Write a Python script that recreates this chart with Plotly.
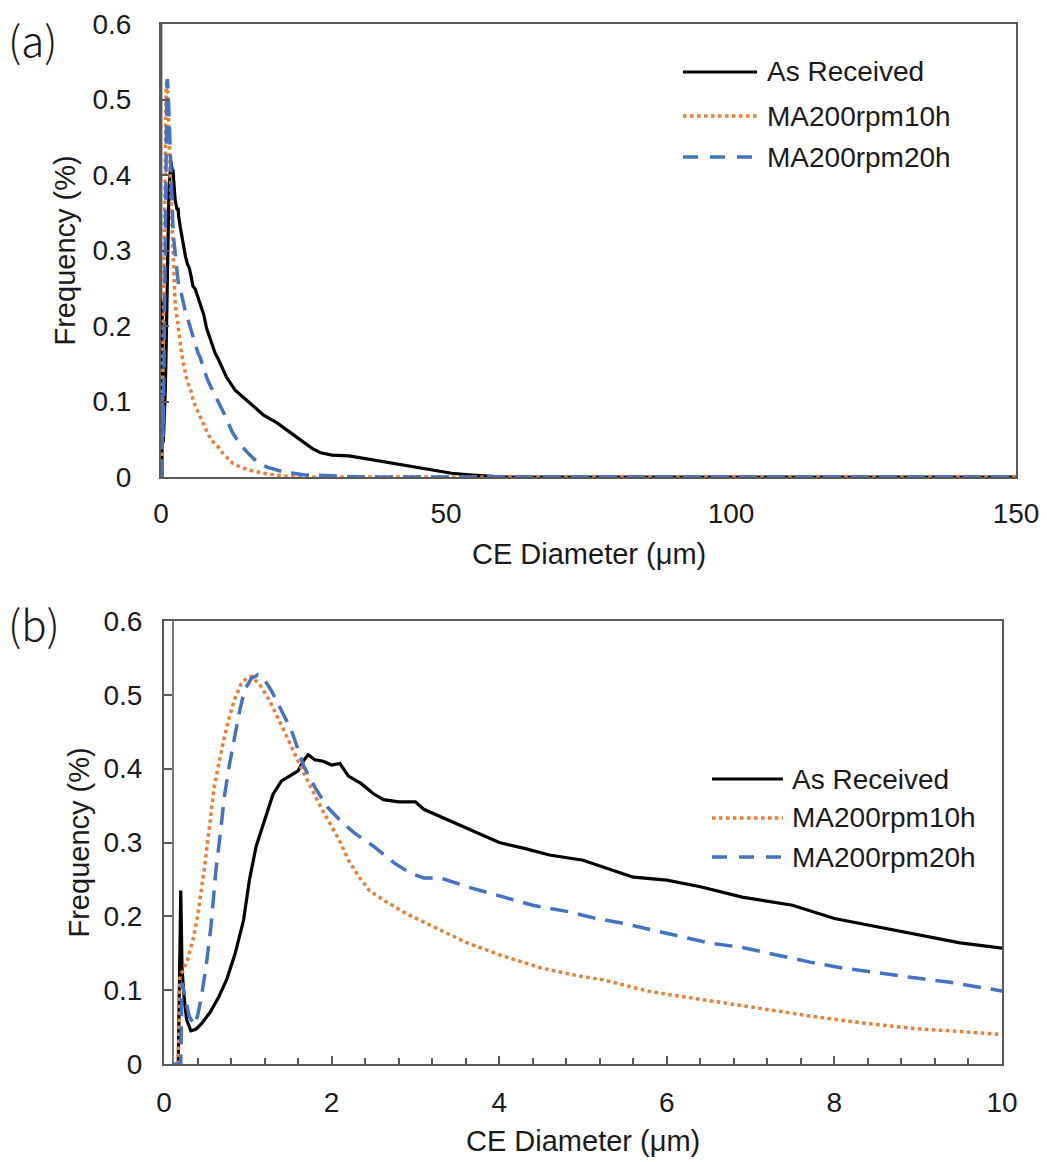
import plotly.graph_objects as go

# ---------------- data ----------------
ar_x = [0.17, 0.20, 0.215, 0.24, 0.27, 0.32, 0.38, 0.45, 0.55, 0.65, 0.75, 0.85, 0.95, 1.02, 1.1,
        1.2, 1.3, 1.4, 1.5, 1.6, 1.66, 1.72, 1.8, 1.9, 2.0, 2.1, 2.2, 2.35, 2.5, 2.62, 2.8, 3.0,
        3.1, 3.4, 3.7, 4.0, 4.3, 4.6, 5.0, 5.3, 5.6, 6.0, 6.4, 6.9, 7.2, 7.5, 8.0, 8.5, 9.0, 9.5,
        10, 11.5, 13, 15.6, 18, 20.3, 22.5, 24.4, 26.5, 28, 30, 33, 36, 39, 42, 45, 48, 51, 54,
        57, 60, 150]
ar_y = [0, 0.235, 0.13, 0.09, 0.06, 0.045, 0.047, 0.055, 0.07, 0.09, 0.115, 0.15, 0.195, 0.25, 0.295,
        0.33, 0.365, 0.383, 0.39, 0.397, 0.41, 0.419, 0.412, 0.41, 0.405, 0.407, 0.39, 0.38, 0.366, 0.358, 0.355, 0.355,
        0.345, 0.33, 0.315, 0.30, 0.292, 0.283, 0.276, 0.265, 0.253, 0.249, 0.24, 0.226, 0.22, 0.215, 0.197, 0.186, 0.176, 0.164,
        0.157, 0.132, 0.115, 0.098, 0.082, 0.072, 0.06, 0.049, 0.038, 0.032, 0.029, 0.028, 0.024, 0.020, 0.016, 0.012, 0.008, 0.005, 0.003,
        0.001, 0.0, 0.0]

ma10_x = [0.17, 0.19, 0.22, 0.28, 0.35, 0.40, 0.48, 0.55, 0.60, 0.66, 0.72, 0.78, 0.84, 0.92, 1.0,
          1.05, 1.16, 1.27, 1.39, 1.5, 1.63, 1.75, 1.87, 2.0, 2.11, 2.2, 2.33, 2.45, 2.62, 2.9, 3.22,
          3.6, 4.0, 4.5, 5.0, 5.24, 5.8, 6.48, 7.1, 7.71, 8.3, 8.95, 9.5, 10, 11, 12.6, 14, 15.6,
          18.6, 22, 25, 150]
ma10_y = [0, 0.12, 0.125, 0.141, 0.17, 0.20, 0.263, 0.33, 0.375, 0.41, 0.443, 0.47, 0.493, 0.515, 0.524,
          0.525, 0.511, 0.49, 0.462, 0.435, 0.403, 0.375, 0.348, 0.322, 0.299, 0.276, 0.253, 0.235, 0.222, 0.203, 0.186,
          0.165, 0.148, 0.13, 0.118, 0.114, 0.098, 0.086, 0.075, 0.065, 0.056, 0.048, 0.044, 0.040, 0.030, 0.018, 0.013, 0.009,
          0.004, 0.001, 0, 0]

ma20_x = [0.10, 0.20, 0.215, 0.25, 0.30, 0.36, 0.40, 0.44, 0.50, 0.56, 0.62, 0.67, 0.72, 0.78, 0.84,
          0.90, 0.96, 1.04, 1.12, 1.2, 1.28, 1.4, 1.52, 1.67, 1.8, 1.95, 2.1, 2.27, 2.5, 2.75, 2.95,
          3.1, 3.3, 3.62, 4.0, 4.4, 4.84, 5.12, 5.5, 6.06, 6.5, 6.89, 7.3, 7.71, 8.1, 8.53, 9.0,
          9.36, 9.7, 10, 11, 12.6, 14, 15.6, 17, 18.6, 21.4, 25, 30, 35, 150]
ma20_y = [0, 0, 0.11, 0.09, 0.065, 0.053, 0.065, 0.087, 0.13, 0.186, 0.263, 0.31, 0.362, 0.405, 0.443,
          0.477, 0.506, 0.522, 0.527, 0.52, 0.506, 0.48, 0.452, 0.403, 0.375, 0.348, 0.33, 0.313, 0.295, 0.272, 0.258,
          0.252, 0.252, 0.24, 0.228, 0.215, 0.206, 0.198, 0.19, 0.175, 0.164, 0.158, 0.148, 0.138, 0.13, 0.123, 0.116,
          0.111, 0.104, 0.099, 0.085, 0.058, 0.042, 0.029, 0.019, 0.013, 0.007, 0.003, 0.001, 0, 0]

# thin vertical trace near the origin seen in panel (b)
spike_x = [0.107, 0.107]
spike_y = [0, 0.75]

series_names = ["As Received", "MA200rpm10h", "MA200rpm20h"]
panel_labels = ["(a)", "(b)"]
x_title = "CE Diameter (μm)"
y_title = "Frequency (%)"

# ---------------- style ----------------
W, H = 1047, 1162
FONT = "Arial, 'Liberation Sans', sans-serif"
TXT = "#1a1a1a"
AX = "#595959"
C_AR = "#000000"
C_10 = "#ED7D31"
C_20 = "#4472C4"


def px(x):
    return x / W


def py(y):
    return 1 - y / H


fig = go.Figure()

styles = [
    (ar_x, ar_y, dict(color=C_AR, width=3.2)),
    (ma10_x, ma10_y, dict(color=C_10, width=3.5, dash="dot")),
    (ma20_x, ma20_y, dict(color=C_20, width=3.5, dash="18px,10px")),
]

for xa, ya in (("x", "y"), ("x2", "y2")):
    fig.add_trace(go.Scatter(x=spike_x, y=spike_y, mode="lines", xaxis=xa, yaxis=ya,
                             line=dict(color=AX, width=1.6), showlegend=False, hoverinfo="skip"))
    for (xs, ys, ln), name in zip(styles, series_names):
        fig.add_trace(go.Scatter(x=xs, y=ys, mode="lines", name=name, xaxis=xa, yaxis=ya,
                                 line=ln, showlegend=False))

# panel geometry (pixels)
A = dict(l=161, r=1016, t=24, b=477)
B = dict(l=164, r=1002, t=621, b=1064)

tickfont = dict(family=FONT, size=28, color=TXT)
common = dict(showgrid=False, zeroline=False, showline=True, linecolor=AX, linewidth=2,
              mirror=True, tickfont=tickfont, ticks="inside", tickcolor=AX, tickwidth=1.5,
              automargin=False)

fig.update_layout(
    template="none",
    width=W, height=H, margin=dict(l=0, r=0, t=0, b=0, autoexpand=False),
    paper_bgcolor="white", plot_bgcolor="white", showlegend=False,
    xaxis=dict(domain=[px(A["l"]), px(A["r"])], range=[0, 150], anchor="y",
               tickvals=[0, 50, 100, 150], ticklen=0, ticklabelstandoff=10, **common),
    yaxis=dict(domain=[py(A["b"]), py(A["t"])], range=[0, 0.6], anchor="x",
               tickvals=[0, 0.1, 0.2, 0.3, 0.4, 0.5, 0.6], ticktext=["0", "0.1", "0.2", "0.3", "0.4", "0.5", "0.6"],
               ticklen=8, ticklabelstandoff=22, **common),
    xaxis2=dict(domain=[px(B["l"]), px(B["r"])], range=[0, 10], anchor="y2",
                tickvals=[0, 2, 4, 6, 8, 10], ticklen=8, ticklabelstandoff=12,
                minor=dict(dtick=0.4, tick0=0, ticks="inside", ticklen=6, tickcolor=AX, tickwidth=1.5),
                **common),
    yaxis2=dict(domain=[py(B["b"]), py(B["t"])], range=[0, 0.6], anchor="x2",
                tickvals=[0, 0.1, 0.2, 0.3, 0.4, 0.5, 0.6], ticktext=["0", "0.1", "0.2", "0.3", "0.4", "0.5", "0.6"],
                ticklen=8, ticklabelstandoff=14, **common),
)

annotations = []
titlefont = dict(family=FONT, size=29, color=TXT)
# axis titles
annotations.append(dict(text=x_title, x=px((A["l"] + A["r"]) / 2), y=py(554), xref="paper", yref="paper",
                        showarrow=False, font=titlefont, xanchor="center", yanchor="middle"))
annotations.append(dict(text=x_title, x=px((B["l"] + B["r"]) / 2), y=py(1141), xref="paper", yref="paper",
                        showarrow=False, font=titlefont, xanchor="center", yanchor="middle"))
annotations.append(dict(text=y_title, x=px(65), y=py((A["t"] + A["b"]) / 2), xref="paper", yref="paper",
                        showarrow=False, font=titlefont, textangle=-90, xanchor="center", yanchor="middle"))
annotations.append(dict(text=y_title, x=px(78), y=py((B["t"] + B["b"]) / 2), xref="paper", yref="paper",
                        showarrow=False, font=titlefont, textangle=-90, xanchor="center", yanchor="middle"))
# panel labels
labfont = dict(family="'Noto Sans CJK JP', 'Noto Sans', sans-serif", size=42, color=TXT, weight=300)
annotations.append(dict(text=panel_labels[0], x=px(6), y=py(38), xref="paper", yref="paper",
                        showarrow=False, font=labfont, xanchor="left", yanchor="middle"))
annotations.append(dict(text=panel_labels[1], x=px(6), y=py(622), xref="paper", yref="paper",
                        showarrow=False, font=labfont, xanchor="left", yanchor="middle"))

# manual legends (long sample lines like the original)
shapes = []
legfont = dict(family=FONT, size=28, color=TXT)
leg_specs = [
    dict(x0=683, x1=757, tx=765, ys=[72, 116, 157]),
    dict(x0=712, x1=783, tx=790, ys=[779, 818, 857]),
]
leg_lines = [dict(color=C_AR, width=3.2), dict(color=C_10, width=3.5, dash="dot"),
             dict(color=C_20, width=3.5, dash="15px,12px")]
for spec in leg_specs:
    for name, ln, yy in zip(series_names, leg_lines, spec["ys"]):
        shapes.append(dict(type="line", xref="paper", yref="paper", x0=px(spec["x0"]), x1=px(spec["x1"]),
                           y0=py(yy), y1=py(yy), line=ln))
        annotations.append(dict(text=name, x=px(spec["tx"]), y=py(yy), xref="paper", yref="paper",
                                showarrow=False, font=legfont, xanchor="left", yanchor="middle"))

fig.update_layout(annotations=annotations, shapes=shapes)

fig.write_html("out.html")
